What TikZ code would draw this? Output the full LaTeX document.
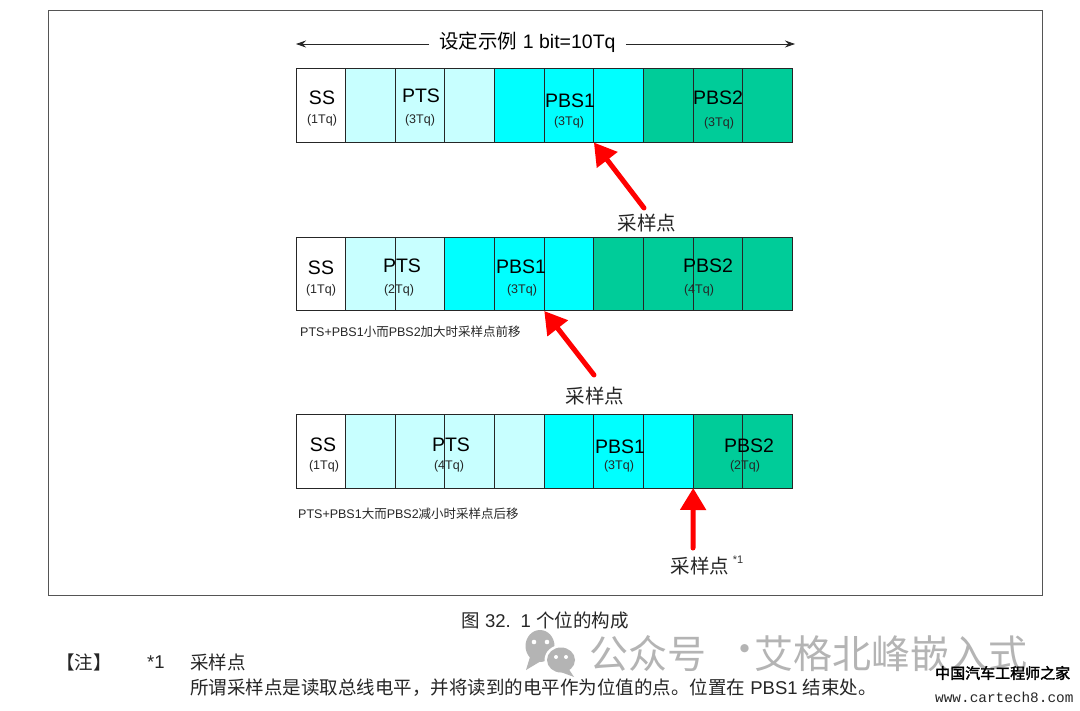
\documentclass[tikz,border=0pt]{standalone}
\usepackage{fontspec}
\setmainfont{Liberation Sans}
\newfontfamily\cjk{Noto Sans CJK SC}
\newfontfamily\cjkb{Noto Sans CJK SC}[FakeBold=2]
\newfontfamily\monof{Liberation Mono}
\usetikzlibrary{arrows.meta}
\definecolor{ptscol}{HTML}{C8FFFF}
\definecolor{pbsonecol}{HTML}{00FFFF}
\definecolor{pbstwocol}{HTML}{00CC99}
\definecolor{framecol}{HTML}{555555}
\definecolor{wmcol}{HTML}{B4B4B4}
\newcommand{\fsz}[1]{\fontsize{#1}{#1}\selectfont}
\newcommand{\row}[5]{% name, y, npts, npbs1, npbs2
  \pgfmathsetmacro{\rowa}{#3}\pgfmathsetmacro{\rowb}{#3+#4}
  \foreach \i in {0,...,9}{
    \pgfmathsetmacro{\cx}{296+49.65*\i}
    \pgfmathsetmacro{\colid}{\i==0?0:(\i<=\rowa?1:(\i<=\rowb?2:3))}
    \ifcase\numexpr\colid\relax\def\cc{white}\or\def\cc{ptscol}\or\def\cc{pbsonecol}\or\def\cc{pbstwocol}\fi
    \node[cell,fill=\cc] (#1c\i) at (\cx,#2) {};
  }
}
\tikzset{
  x=1pt,y=-1pt,
  cell/.style={draw=black!85,line width=1pt,anchor=north west,minimum width=49.65pt,minimum height=73.5pt,inner sep=0pt,outer sep=0pt},
  big/.style={font=\fsz{19.5},inner sep=0pt,text=black},
  sub/.style={font=\fsz{12.5},inner sep=0pt,text=black!85},
  cjklabel/.style={font=\cjk\fsz{19.5},inner sep=0pt,text=black!85},
  note/.style={font=\fsz{12.5},inner sep=0pt,anchor=west,text=black!85},
  body/.style={font=\fsz{18.5},inner sep=0pt,anchor=west,text=black!85},
  wm/.style={font=\cjk\fsz{39},inner sep=0pt,anchor=west,text=wmcol},
  redarrow/.style={draw=red,line width=5pt,line cap=round,-{Triangle[length=22pt,width=25pt]}},
  thinarrow/.style={draw=black!85,line width=0.8pt,-{Stealth[length=10pt,width=7pt]}},
  framebox/.style={draw=framecol,line width=1.2pt,minimum width=994pt,minimum height=585pt,anchor=north west,inner sep=0pt},
}
\begin{document}
\begin{tikzpicture}
\path[use as bounding box,fill=white] (0,0) rectangle (1080,711);
\node[framebox] (frame) at (48,10) {};

% top title and span arrows
\node[big,inner xsep=10pt] (title) at (527.5,42) {{\cjk 设定示例} 1 bit=10Tq};
\coordinate (spanL) at (296,44);
\coordinate (spanR) at (795,44);
\draw[thinarrow] (title.west |- spanL) -- (spanL);
\draw[thinarrow] (title.east |- spanR) -- (spanR);

% rows
\row{a}{69}{3}{3}{3}
\row{b}{237.5}{2}{3}{4}
\row{c}{414.5}{4}{3}{2}

% row a labels
\node[big] (a1) at (322,98) {SS};
\node[sub] (a2) at (322,120) {(1Tq)};
\node[big] (a3) at (421,96) {PTS};
\node[sub] (a4) at (420,120) {(3Tq)};
\node[big] (a5) at (570,101) {PBS1};
\node[sub] (a6) at (569,122) {(3Tq)};
\node[big] (a7) at (718,98) {PBS2};
\node[sub] (a8) at (719,123) {(3Tq)};

% row b labels
\node[big] (b1) at (321,268) {SS};
\node[sub] (b2) at (321,290) {(1Tq)};
\node[big] (b3) at (402,266) {PTS};
\node[sub] (b4) at (399,290) {(2Tq)};
\node[big] (b5) at (521,267) {PBS1};
\node[sub] (b6) at (522,290) {(3Tq)};
\node[big] (b7) at (708,266) {PBS2};
\node[sub] (b8) at (699,290) {(4Tq)};

% row c labels
\node[big] (c1) at (323,445) {SS};
\node[sub] (c2) at (324,466) {(1Tq)};
\node[big] (c3) at (451,445) {PTS};
\node[sub] (c4) at (449,466) {(4Tq)};
\node[big] (c5) at (620,447) {PBS1};
\node[sub] (c6) at (619,466) {(3Tq)};
\node[big] (c7) at (749,446) {PBS2};
\node[sub] (c8) at (745,466) {(2Tq)};

% notes
\node[note] (n1) at (300,332) {PTS+PBS1{\cjk 小而}PBS2{\cjk 加大时采样点前移}};
\node[note] (n2) at (298,514) {PTS+PBS1{\cjk 大而}PBS2{\cjk 减小时采样点后移}};

% sample point labels and arrows
\node[cjklabel] (s1) at (647,223) {采样点};
\node[cjklabel] (s2) at (595,396) {采样点};
\node[cjklabel] (s3) at (700,566) {采样点};
\node[font=\fsz{11},inner sep=0pt,text=black!80] (s3star) at (738,560) {*1};
\coordinate (t1) at (644,208);
\coordinate (t2) at (594,375);
\coordinate (t3) at (693,548);
\draw[redarrow] (t1) -- (ac6.south west);
\draw[redarrow] (t2) -- (bc5.south west);
\draw[redarrow] (t3) -- (cc8.south west);

% caption
\node[font=\fsz{18.5},inner sep=0pt,text=black!85] (cap) at (545,620) {{\cjk 图} 32.\hspace{10pt}1 {\cjk 个位的构成}};

% remarks
\node[body] (r1) at (56,662) {{\cjk 【注】}};
\node[body] (r2) at (147,662) {*1};
\node[body] (r3) at (190,662) {{\cjk 采样点}};
\node[body] (r4) at (190,688) {{\cjk 所谓采样点是读取总线电平，并将读到的电平作为位值的点。位置在} PBS1 {\cjk 结束处。}};

% watermark
\fill[wmcol] (540,646) ellipse (14.5pt and 16pt);
\fill[wmcol] (530,657) -- (526,670) -- (541,661) -- cycle;
\fill[white] (561,660) ellipse (16.5pt and 15pt);
\fill[wmcol] (561,660) ellipse (14pt and 12.5pt);
\fill[wmcol] (568,668) -- (574,677) -- (558,671) -- cycle;
\fill[white] (534,642) circle (2.3pt) (547,642) circle (2.3pt) (556,657) circle (2pt) (566,657) circle (2pt);
\node[wm] (w1) at (589,654) {公众号};
\node[wm] (w2) at (725,654) {·};
\node[wm] (w3) at (754,654) {艾格北峰嵌入式};

% site mark
\node[font=\cjkb\fsz{15},inner sep=0pt,anchor=west,text=black] (m1) at (935,673) {中国汽车工程师之家};
\node[font=\monof\fsz{14.4},inner sep=0pt,anchor=west,text=black!85] (m2) at (935,697) {www.cartech8.com};
\end{tikzpicture}
\end{document}
